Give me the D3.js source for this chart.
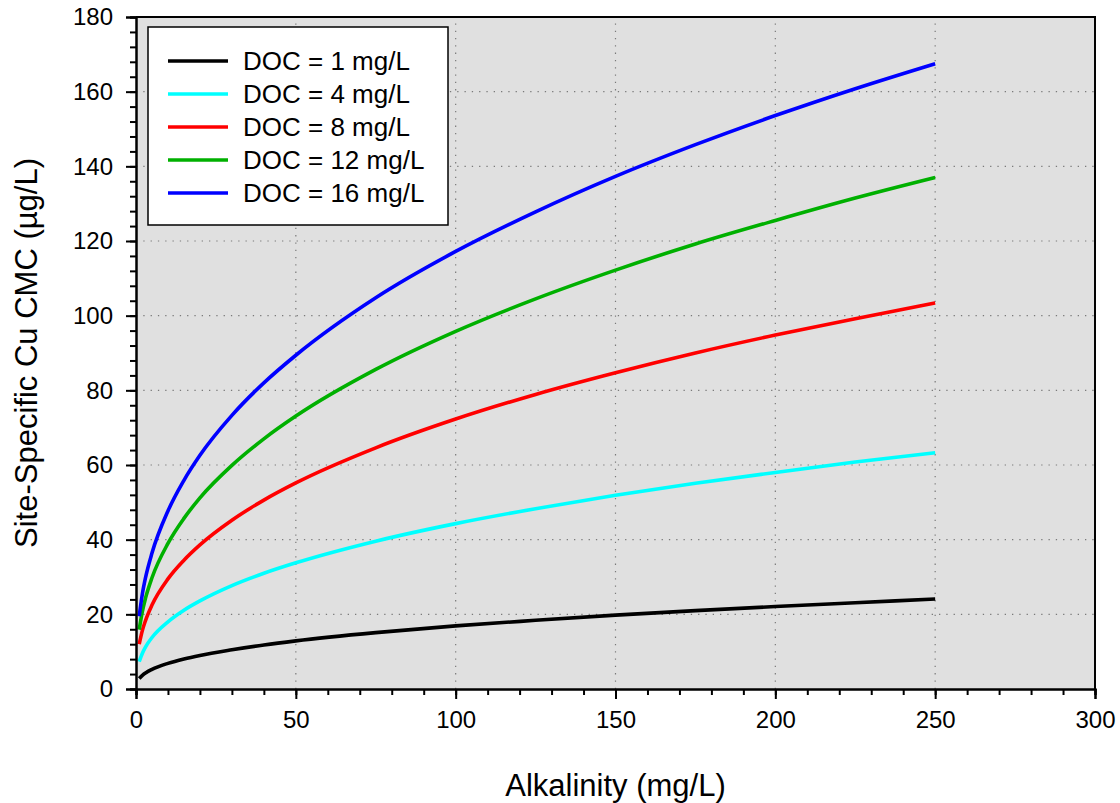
<!DOCTYPE html>
<html>
<head>
<meta charset="utf-8">
<script src="https://cdn.jsdelivr.net/npm/d3@7/dist/d3.min.js"></script>
<style>
  html, body { margin: 0; padding: 0; background: #ffffff; }
  svg { display: block; font-family: "Liberation Sans", Arial, sans-serif; }
</style>
</head>
<body>
<svg id="chart" width="1120" height="803"></svg>
<script>
// ---- Data ----
const alkalinity = [0.5, 1, 2, 3, 5, 10, 15, 20, 30, 40, 50, 75, 100, 125, 150, 175, 200, 225, 250];
const doc1  = [2.3, 2.8, 3.67, 4.3, 5.25, 6.87, 8.05, 9.0, 10.5, 11.8, 12.9, 15.1, 16.9, 18.4, 19.8, 21.0, 22.1, 23.1, 24.1];
const doc4  = [5.6, 7.35, 9.6, 11.3, 13.8, 18.0, 21.1, 23.6, 27.7, 31.0, 33.8, 39.6, 44.3, 48.3, 51.9, 55.1, 58.0, 60.8, 63.3];
const doc8  = [9.2, 12.0, 15.7, 18.4, 22.5, 29.5, 34.5, 38.6, 45.2, 50.6, 55.2, 64.6, 72.3, 78.9, 84.7, 90.0, 94.8, 99.2, 103.4];
const doc12 = [12.2, 15.9, 20.8, 24.4, 29.8, 39.0, 45.7, 51.2, 59.9, 67.0, 73.1, 85.6, 95.8, 104.5, 112.2, 119.2, 125.5, 131.5, 137.0];
const doc16 = [15.0, 19.5, 25.5, 29.9, 36.4, 47.7, 55.9, 62.6, 73.3, 82.0, 89.4, 104.8, 117.2, 127.8, 137.3, 145.8, 153.6, 160.8, 167.5];
const seriesNames = ["DOC = 1 mg/L", "DOC = 4 mg/L", "DOC = 8 mg/L", "DOC = 12 mg/L", "DOC = 16 mg/L"];
const seriesColors = ["#000000", "#00ffff", "#ff0000", "#00b000", "#0000ff"];
const xTicks = [0, 50, 100, 150, 200, 250, 300];
const yTicks = [0, 20, 40, 60, 80, 100, 120, 140, 160, 180];
const xTitle = "Alkalinity (mg/L)";
const yTitle = "Site-Specific Cu CMC (\u00b5g/L)";

const seriesValues = [doc1, doc4, doc8, doc12, doc16];

// ---- Layout ----
const svg = d3.select("#chart");
const L = 136, R = 1095, T = 17, B = 689;

const x = d3.scaleLinear().domain([0, 300]).range([L, R]);
const y = d3.scaleLinear().domain([0, 180]).range([B, T]);

// plot background
svg.append("rect").attr("x", L).attr("y", T).attr("width", R - L).attr("height", B - T)
  .attr("fill", "#e0e0e0");

// grid
const grid = svg.append("g").attr("stroke", "#7a7a7a").attr("stroke-width", 1.2)
  .attr("stroke-dasharray", "1.3,6");
grid.selectAll("line.gx").data(xTicks.filter(d => d > 0 && d < 300)).join("line")
  .attr("x1", d => x(d)).attr("x2", d => x(d)).attr("y1", B).attr("y2", T);
grid.selectAll("line.gy").data(yTicks.filter(d => d > 0 && d < 180)).join("line")
  .attr("x1", L).attr("x2", R).attr("y1", d => y(d)).attr("y2", d => y(d));

// frame top & right
svg.append("path").attr("d", `M${L},${T}H${R}V${B}`).attr("fill", "none")
  .attr("stroke", "#000").attr("stroke-width", 2);

// curves (start at alkalinity 1 as in the reference; first point trimmed below)
const line = d3.line().x(d => x(d[0])).y(d => y(d[1])).curve(d3.curveMonotoneX);
seriesValues.forEach((vals, i) => {
  const pts = alkalinity.map((a, j) => [a, vals[j]]).filter(d => d[0] >= 1);
  svg.append("path")
    .datum(pts)
    .attr("d", line)
    .attr("fill", "none")
    .attr("stroke", seriesColors[i])
    .attr("stroke-width", 3.6)
    .attr("stroke-linejoin", "round");
});

// axes
const xAxisMinor = d3.axisBottom(x).tickValues(d3.range(0, 301, 10)).tickSize(6).tickFormat("");
const xAxis = d3.axisBottom(x).tickValues(xTicks).tickSize(10).tickPadding(12).tickFormat(d3.format("d"));
const yAxisMinor = d3.axisLeft(y).tickValues(d3.range(0, 181, 4)).tickSize(6).tickFormat("");
const yAxis = d3.axisLeft(y).tickValues(yTicks).tickSize(10).tickPadding(13).tickFormat(d3.format("d"));

function styleAxis(g) {
  g.select(".domain").attr("stroke", "#000").attr("stroke-width", 2);
  g.selectAll(".tick line").attr("stroke", "#000").attr("stroke-width", 2);
  g.selectAll(".tick text").attr("fill", "#000").attr("font-size", 24)
    .attr("font-family", "'Liberation Sans', Arial, sans-serif");
}
svg.append("g").attr("transform", `translate(0,${B})`).call(xAxisMinor).call(styleAxis);
svg.append("g").attr("transform", `translate(0,${B})`).call(xAxis).call(styleAxis);
svg.append("g").attr("transform", `translate(${L},0)`).call(yAxisMinor).call(styleAxis);
svg.append("g").attr("transform", `translate(${L},0)`).call(yAxis).call(styleAxis);

// axis titles
svg.append("text").attr("x", (L + R) / 2).attr("y", 796).attr("text-anchor", "middle")
  .attr("font-size", 31).attr("fill", "#000").text(xTitle);
svg.append("text").attr("transform", `translate(37,${(T + B) / 2}) rotate(-90)`)
  .attr("text-anchor", "middle").attr("font-size", 31).attr("fill", "#000").text(yTitle);

// legend
const lg = svg.append("g");
lg.append("rect").attr("x", 148).attr("y", 27).attr("width", 300).attr("height", 198)
  .attr("fill", "#ffffff").attr("stroke", "#000").attr("stroke-width", 1.5);
seriesNames.forEach((name, i) => {
  const yy = 61 + i * 33;
  lg.append("line").attr("x1", 168).attr("x2", 228).attr("y1", yy).attr("y2", yy)
    .attr("stroke", seriesColors[i]).attr("stroke-width", 3.6);
  lg.append("text").attr("x", 243).attr("y", yy).attr("dy", "0.35em")
    .attr("font-size", 26).attr("fill", "#000").text(name);
});
</script>
</body>
</html>
